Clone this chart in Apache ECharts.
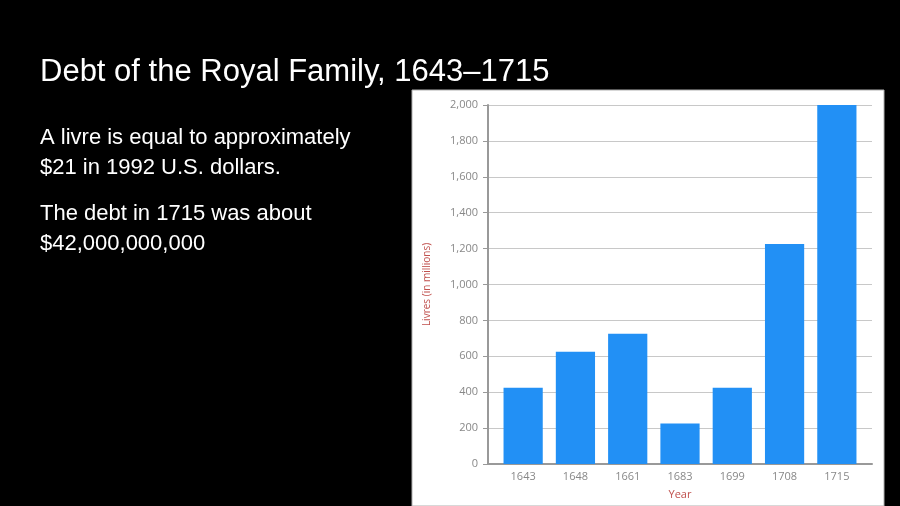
<!DOCTYPE html>
<html><head><meta charset="utf-8">
<style>html,body{margin:0;padding:0;background:#000}#c{width:900px;height:506px}</style>
<script src="https://cdn.jsdelivr.net/npm/echarts@6/dist/echarts.min.js"></script>
</head><body><div id="c"></div>
<script>
const years = ['1643','1648','1661','1683','1699','1708','1715'];
const livres = [425, 625, 725, 225, 425, 1225, 2000];
const titleText = 'Debt of the Royal Family, 1643\u20131715';
const bodyLines = ['A livre is equal to approximately', '$21 in 1992 U.S. dollars.', 'The debt in 1715 was about', '$42,000,000,000'];
const bodyY = [127, 157, 203, 233];

const chart = echarts.init(document.getElementById('c'));
const graphics = [
  {type:'rect', shape:{x:412,y:90,width:472,height:416}, style:{fill:'#fff', stroke:'#b0b0b0', lineWidth:1}, z:-10, silent:true},
  {type:'text', left:40, top:57, style:{text:titleText, fill:'#fff', font:'31px "Liberation Sans", Arial, sans-serif'}}
];
bodyLines.forEach((t,i)=>graphics.push({type:'text', left:40, top:bodyY[i], style:{text:t, fill:'#fff', font:'22px "Liberation Sans", Arial, sans-serif'}}));

const gBottom = 42;
chart.setOption({
  backgroundColor:'#000',
  animation:false,
  graphic: graphics,
  grid:[
    {left:488, right:28, top:105, bottom:gBottom, outerBoundsMode:'none', containLabel:false},
    {left:497, right:37, top:105, bottom:gBottom, outerBoundsMode:'none', containLabel:false}
  ],
  xAxis:[{
    gridIndex:0, type:'category', data:years,
    axisLine:{lineStyle:{color:'#999', width:2}},
    axisTick:{show:false}, axisLabel:{show:false}
  },{
    gridIndex:1, type:'category', data:years,
    name:'Year', nameLocation:'middle', nameGap:25,
    nameTextStyle:{color:'#c0504d', fontSize:11, fontFamily:'Open Sans'},
    axisLine:{show:false},
    axisTick:{show:false},
    axisLabel:{color:'#888', fontSize:11, margin:7, fontFamily:'Open Sans'}
  }],
  yAxis:[{
    gridIndex:0, type:'value', min:0, max:2000, interval:200,
    name:'Livres (in millions)', nameLocation:'middle', nameGap:56,
    nameTextStyle:{color:'#c0504d', fontSize:10, fontFamily:'Open Sans'},
    axisLine:{show:true, lineStyle:{color:'#999', width:2}},
    axisTick:{show:true, length:5, lineStyle:{color:'#999'}},
    axisLabel:{color:'#888', fontSize:11, margin:10, fontFamily:'Open Sans',
      formatter:v=>v.toLocaleString('en-US')},
    splitLine:{lineStyle:{color:'#c8c8c8'}}
  },{
    gridIndex:1, type:'value', min:0, max:2000, interval:200, show:false
  }],
  series:[{type:'bar', xAxisIndex:1, yAxisIndex:1, data:livres, barCategoryGap:'25%', itemStyle:{color:'#2290f5'}, z:3}]
});
</script></body></html>
